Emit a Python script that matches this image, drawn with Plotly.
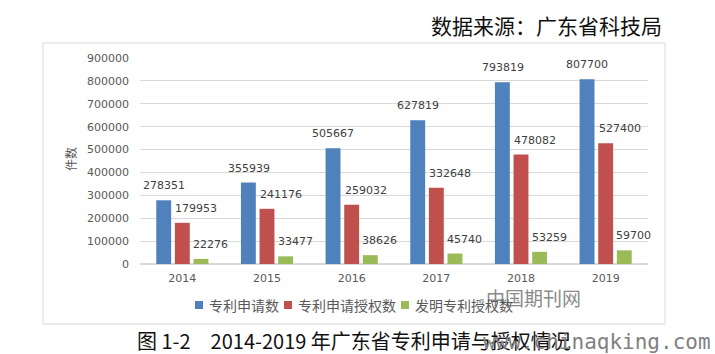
import plotly.graph_objects as go

years = ["2014", "2015", "2016", "2017", "2018", "2019"]
applications = [278351, 355939, 505667, 627819, 793819, 807700]
granted = [179953, 241176, 259032, 332648, 478082, 527400]
invention_granted = [22276, 33477, 38626, 45740, 53259, 59700]

series_names = ["专利申请数", "专利申请授权数", "发明专利授权数"]
series_values = [applications, granted, invention_granted]
colors = ["#4F81BD", "#C0504D", "#9BBB59"]
label_xshift = [-18.5, 14, 28]   # pixel offsets for data labels per series

W, H = 715, 354
L, R, T, B = 140, 67, 58, 90
pw, ph = W - L - R, H - T - B

def px(x):
    return (x - L) / pw

def py(y):
    return (H - B - y) / ph

fig = go.Figure()
for name, vals, c in zip(series_names, series_values, colors):
    fig.add_trace(go.Bar(x=years, y=vals, name=name, marker_color=c,
                         marker_line_width=0, showlegend=False))

annotations = []
for vals, xs in zip(series_values, label_xshift):
    for i, v in enumerate(vals):
        annotations.append(dict(x=i, y=v, xref="x", yref="y", text=str(v),
                                showarrow=False, xshift=xs, yshift=6,
                                xanchor="center", yanchor="bottom",
                                font=dict(family="DejaVu Sans", size=11, color="#404040")))

annotations += [
    dict(x=px(70), y=py(159), xref="paper", yref="paper", text="件数", textangle=-90,
         xanchor="center", yanchor="middle", showarrow=False,
         font=dict(family="Noto Sans CJK SC", size=12, color="#595959")),
    dict(x=px(664), y=py(25), xref="paper", yref="paper", text="数据来源：广东省科技局",
         xanchor="right", yanchor="middle", showarrow=False,
         font=dict(family="Noto Sans CJK SC", size=21, color="#111111")),
    dict(x=px(135), y=py(340), xref="paper", yref="paper",
         text="图 1-2　2014-2019 年广东省专利申请与授权情况",
         xanchor="left", yanchor="middle", showarrow=False,
         font=dict(family="Noto Sans CJK SC", size=20, color="#111111")),
    dict(x=px(533), y=py(297), xref="paper", yref="paper", text="中国期刊网",
         xanchor="center", yanchor="middle", showarrow=False,
         font=dict(family="Noto Sans CJK SC", size=19, color="#8a8a8a")),
    dict(x=px(713), y=py(342), xref="paper", yref="paper", text="www.chinaqking.com",
         xanchor="right", yanchor="middle", showarrow=False,
         font=dict(family="DejaVu Sans Mono", size=21, color="#808080")),
]

# custom compact legend
shapes = [dict(type="rect", xref="paper", yref="paper",
               x0=px(43), x1=px(665), y0=py(324), y1=py(43),
               line=dict(color="#d9d9d9", width=1), layer="below")]
leg_font = 14
cursor = 195
leg_y = 305
for name, c in zip(series_names, colors):
    shapes.append(dict(type="rect", xref="paper", yref="paper",
                       x0=px(cursor), x1=px(cursor + 8), y0=py(leg_y + 4), y1=py(leg_y - 4),
                       fillcolor=c, line=dict(width=0)))
    annotations.append(dict(x=px(cursor + 12), y=py(leg_y), xref="paper", yref="paper",
                            text=name, xanchor="left", yanchor="middle", showarrow=False,
                            font=dict(family="Noto Sans CJK SC", size=leg_font, color="#595959")))
    cursor += 12 + len(name) * leg_font + 7

fig.update_layout(
    width=W, height=H,
    margin=dict(l=L, r=R, t=T, b=B),
    paper_bgcolor="white", plot_bgcolor="white",
    barmode="group", bargap=0.34, bargroupgap=0.2,
    showlegend=False,
    annotations=annotations,
    shapes=shapes,
)
fig.update_xaxes(type="category", range=[-0.5, len(years) - 0.5], autorange=False,
                 showgrid=False, showline=False, ticks="", ticklabelstandoff=6,
                 tickfont=dict(family="DejaVu Sans", size=11, color="#595959"))
fig.update_yaxes(range=[0, 900000], autorange=False, dtick=100000, showgrid=True,
                 gridcolor="#d9d9d9", gridwidth=1, zeroline=True, zerolinecolor="#d9d9d9",
                 tickformat="d", ticks="", ticklabelstandoff=10,
                 tickfont=dict(family="DejaVu Sans", size=11, color="#595959"))

fig.write_html("out.html")
